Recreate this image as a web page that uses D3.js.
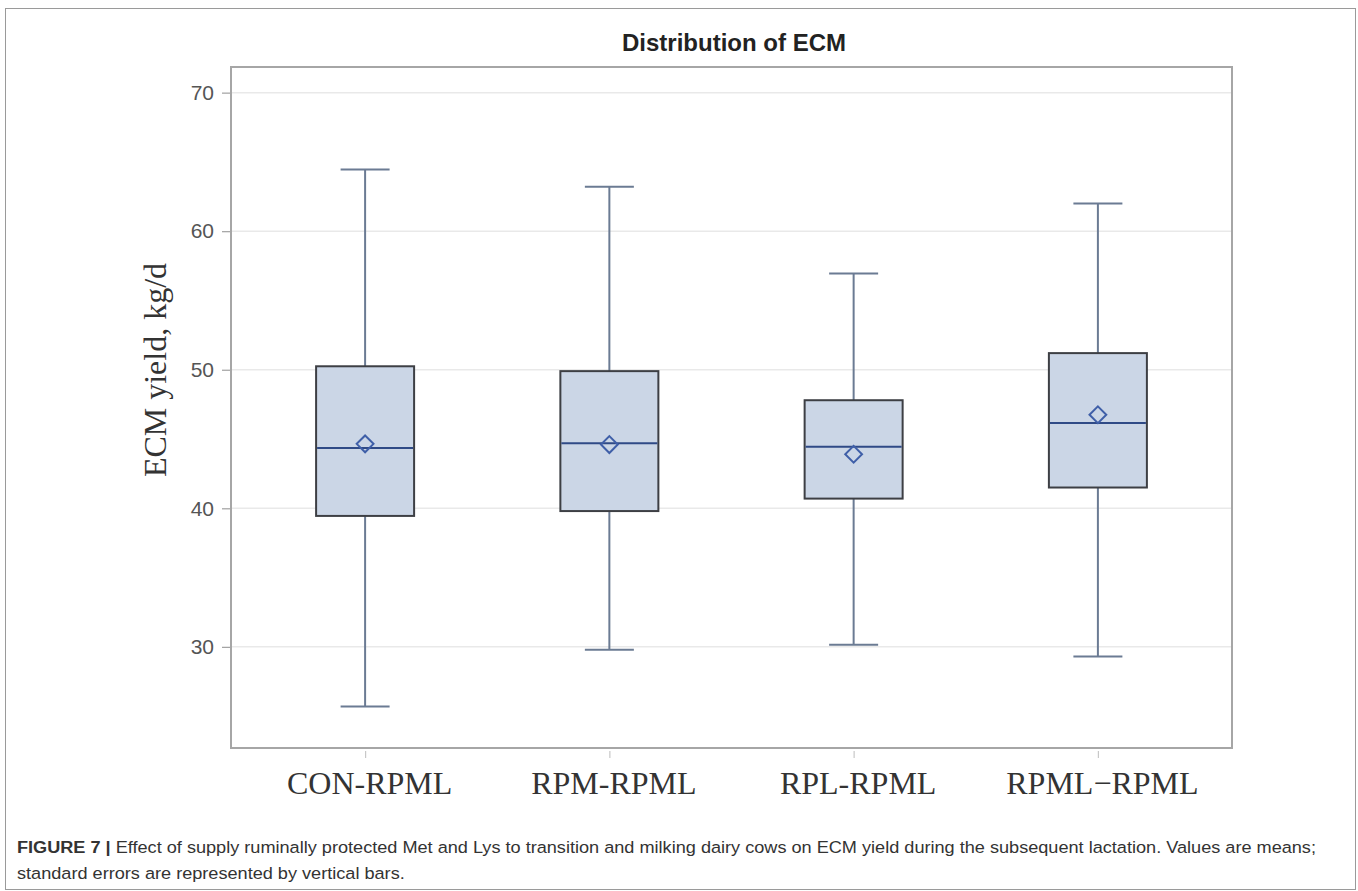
<!DOCTYPE html>
<html>
<head>
<meta charset="utf-8">
<script src="https://cdn.jsdelivr.net/npm/d3@7"></script>
<style>
  html, body { margin: 0; padding: 0; background: #fff; }
  svg { display: block; }
</style>
</head>
<body>
<svg id="chart" width="1358" height="891"></svg>
<script>
// ECM yield distribution per treatment group
const categories = ["CON-RPML", "RPM-RPML", "RPL-RPML", "RPML\u2212RPML"];
const whiskerLow  = [25.7, 29.8, 30.15, 29.3];
const quartile1   = [39.45, 39.8, 40.7, 41.5];
const medians     = [44.35, 44.7, 44.45, 46.15];
const quartile3   = [50.25, 49.9, 47.8, 51.2];
const whiskerHigh = [64.45, 63.2, 56.95, 62.0];
const means       = [44.65, 44.6, 43.9, 46.75];
const yTicks      = [30, 40, 50, 60, 70];

const titleText = "Distribution of ECM";
const yLabel = "ECM yield, kg/d";
const captionBold = "FIGURE 7 |";
const captionLine1 = " Effect of supply ruminally protected Met and Lys to transition and milking dairy cows on ECM yield during the subsequent lactation. Values are means;";
const captionLine2 = "standard errors are represented by vertical bars.";

const svg = d3.select("#chart");

// outer figure border
svg.append("rect")
  .attr("x", 5.5).attr("y", 8.5)
  .attr("width", 1350).attr("height", 881)
  .attr("fill", "none").attr("stroke", "#9a9a9a").attr("stroke-width", 1);

const plot = { left: 231, top: 67, right: 1232, bottom: 748 };

const x = d3.scalePoint()
  .domain(categories)
  .range([plot.left, plot.right])
  .padding(0.549);

const y = d3.scaleLinear()
  .domain([22.7, 71.85])
  .range([plot.bottom, plot.top]);

const boxW = 98;
const capW = 49;

// horizontal gridlines
svg.append("g").selectAll("line")
  .data(yTicks)
  .join("line")
  .attr("x1", plot.left).attr("x2", plot.right)
  .attr("y1", d => y(d)).attr("y2", d => y(d))
  .attr("stroke", "#e9e9e9").attr("stroke-width", 1.5);

// y axis
const yAxis = svg.append("g")
  .attr("transform", `translate(${plot.left},0)`)
  .call(d3.axisLeft(y).tickValues(yTicks).tickSize(9).tickPadding(8).tickFormat(d3.format("d")));
yAxis.select(".domain").remove();
yAxis.selectAll(".tick line").attr("stroke", "#a0a0a0").attr("stroke-width", 1.2);
yAxis.selectAll(".tick text")
  .attr("fill", "#555")
  .style("font-family", "'Liberation Sans', Arial, sans-serif")
  .style("font-size", "21px");

// x axis
const xAxis = svg.append("g")
  .attr("transform", `translate(0,${plot.bottom})`)
  .call(d3.axisBottom(x).tickSize(10).tickPadding(0));
xAxis.select(".domain").remove();
xAxis.selectAll(".tick line").attr("stroke", "#c8c8c8").attr("stroke-width", 1.2).attr("y1", 3);
xAxis.selectAll(".tick text")
  .attr("fill", "#333")
  .attr("y", 46).attr("dy", null).attr("dx", 4)
  .style("font-family", "'Liberation Serif', 'Times New Roman', serif")
  .style("font-size", "32px");

// boxes
const groups = svg.append("g").selectAll("g")
  .data(categories.map((c, i) => ({
    c, lo: whiskerLow[i], q1: quartile1[i], med: medians[i],
    q3: quartile3[i], hi: whiskerHigh[i], mean: means[i]
  })))
  .join("g");

const whiskerColor = "#6b7b93";

groups.append("line")
  .attr("x1", d => x(d.c)).attr("x2", d => x(d.c))
  .attr("y1", d => y(d.hi)).attr("y2", d => y(d.q3))
  .attr("stroke", whiskerColor).attr("stroke-width", 2);
groups.append("line")
  .attr("x1", d => x(d.c)).attr("x2", d => x(d.c))
  .attr("y1", d => y(d.q1)).attr("y2", d => y(d.lo))
  .attr("stroke", whiskerColor).attr("stroke-width", 2);
groups.append("line")
  .attr("x1", d => x(d.c) - capW / 2).attr("x2", d => x(d.c) + capW / 2)
  .attr("y1", d => y(d.hi)).attr("y2", d => y(d.hi))
  .attr("stroke", whiskerColor).attr("stroke-width", 2);
groups.append("line")
  .attr("x1", d => x(d.c) - capW / 2).attr("x2", d => x(d.c) + capW / 2)
  .attr("y1", d => y(d.lo)).attr("y2", d => y(d.lo))
  .attr("stroke", whiskerColor).attr("stroke-width", 2);

groups.append("rect")
  .attr("x", d => x(d.c) - boxW / 2)
  .attr("width", boxW)
  .attr("y", d => y(d.q3))
  .attr("height", d => y(d.q1) - y(d.q3))
  .attr("fill", "#cbd6e6")
  .attr("stroke", "#3d3f44").attr("stroke-width", 2);

groups.append("line")
  .attr("x1", d => x(d.c) - boxW / 2 + 1).attr("x2", d => x(d.c) + boxW / 2 - 1)
  .attr("y1", d => y(d.med)).attr("y2", d => y(d.med))
  .attr("stroke", "#2f4a86").attr("stroke-width", 2);

groups.append("path")
  .attr("d", d3.symbol(d3.symbolDiamond2 || d3.symbolSquare2, 180))
  .attr("transform", d => `translate(${x(d.c)},${y(d.mean)})`)
  .attr("fill", "none")
  .attr("stroke", "#3f5fa8").attr("stroke-width", 2);

// plot frame
svg.append("rect")
  .attr("x", plot.left).attr("y", plot.top)
  .attr("width", plot.right - plot.left).attr("height", plot.bottom - plot.top)
  .attr("fill", "none").attr("stroke", "#a6a6a6").attr("stroke-width", 2);

// title
svg.append("text")
  .attr("x", 734).attr("y", 51)
  .attr("text-anchor", "middle")
  .attr("fill", "#222")
  .style("font-family", "'Liberation Sans', Arial, sans-serif")
  .style("font-weight", "bold")
  .style("font-size", "24px")
  .text(titleText);

// y axis title
svg.append("text")
  .attr("transform", "translate(166,370) rotate(-90)")
  .attr("text-anchor", "middle")
  .attr("fill", "#333")
  .style("font-family", "'Liberation Serif', 'Times New Roman', serif")
  .style("font-size", "32px")
  .text(yLabel);

// caption
const cap = svg.append("g").attr("class", "caption");
const capFont = "'Liberation Sans', Arial, sans-serif";
const t1 = cap.append("text").attr("x", 0).attr("y", 0)
  .attr("fill", "#333")
  .style("font-family", capFont).style("font-size", "17px");
t1.append("tspan").style("font-weight", "bold").text(captionBold);
t1.append("tspan").text(captionLine1);
const t2 = cap.append("text").attr("x", 0).attr("y", 26)
  .attr("fill", "#333")
  .style("font-family", capFont).style("font-size", "17px")
  .text(captionLine2);
const natural = t1.node().getComputedTextLength();
const sx = 1300 / natural;
cap.attr("transform", `translate(17,853) scale(${sx},1)`);
</script>
</body>
</html>
